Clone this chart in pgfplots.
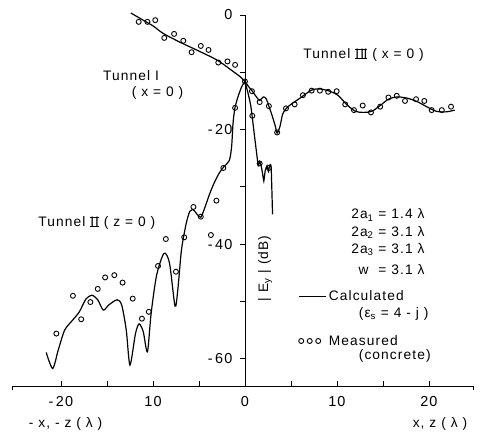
\documentclass[border=0pt]{standalone}
\usepackage{pgfplots}
\pgfplotsset{compat=1.18}
\usepackage{fontspec}
\setmainfont{Liberation Sans}[LetterSpace=8]
\newcommand\RN[1]{\setbox0\hbox{#1}\leavevmode\rlap{\rule[-0.02em]{\wd0}{0.07em}}\rlap{\rule[\dimexpr\ht0-0.05em\relax]{\wd0}{0.07em}}\box0\relax}
\pgfplotsset{
  calcleg/.style={legend image code/.code={\draw[##1] (0bp,0bp) -- (27bp,0bp);}},
  measleg/.style={legend image code/.code={\draw[##1] plot coordinates {(2.5bp,0bp) (11bp,0bp) (19.5bp,0bp)};}},
}
\begin{document}
\begin{tikzpicture}[font=\fontsize{13.8}{15}\selectfont]
\begin{axis}[
  scale only axis, width=461.8bp, height=371.3bp,
  xmin=-25.3, xmax=24.9, ymin=-64.8, ymax=0,
  axis x line=bottom, axis y line=center,
  axis line style={-, line width=0.8bp},
  xtick={-20,-15,...,20},
  xticklabels={-\,20,,10,,0,,10,,20},
  ytick={-60,-50,...,0},
  yticklabels={-\,60,,-\,40,,-\,20,,0},
  xtick align=inside, ytick align=outside,
  major tick length=5bp,
  tick style={line width=0.8bp, black},
  extra x ticks={-25.25,24.85}, extra x tick labels={,},
  extra x tick style={xtick align=outside, major tick length=4bp},
  xticklabel style={font=\fontsize{14.5}{16}\selectfont, yshift=-7bp},
  yticklabel style={font=\fontsize{14.5}{16}\selectfont, xshift=-4bp},
  clip=false,
  legend style={at={(axis cs:5.76,-48.1)}, anchor=north west, draw=none, fill=none,
    inner sep=0pt, row sep=33bp, font=\fontsize{13.8}{15}\selectfont,
    nodes={inner xsep=2.5bp, inner ysep=0bp}},
  legend cell align=left,
]
% Tunnel I calculated
\addplot[black, line width=1.2bp, smooth, tension=0.5, calcleg]
  coordinates {(-12.4,0.35) (-11.5,-0.5) (-10.0,-1.9) (-8.9,-3.2) (-7.0,-4.8) (-5.0,-6.3) (-3.0,-7.9) (-1.5,-9.6) (-0.5,-10.8) (0,-11.6)};
\addlegendentry{Calculated}
% Tunnel II calculated
\addplot[black, line width=1.2bp, smooth, tension=0.45, forget plot]
  coordinates {(-21.6,-58.9) (-20.9,-61.7) (-20.3,-58.5) (-19.6,-55.0) (-18.7,-53.2) (-18.0,-51.8) (-17.3,-49.6) (-16.65,-48.9) (-16.0,-49.7) (-15.4,-51.5) (-14.8,-50.6) (-13.9,-49.7) (-13.4,-50.6) (-12.9,-55.0) (-12.5,-61.1) (-11.9,-55.6) (-11.5,-53.9) (-11.05,-55.3) (-10.6,-58.8) (-10.2,-52.1) (-9.6,-45.4) (-8.8,-41.6) (-8.2,-43.3) (-7.6,-50.8) (-7.3,-48.0) (-6.9,-41.0) (-6.4,-36.5) (-6.0,-34.3) (-5.6,-34.0) (-5.2,-34.8) (-4.8,-35.3) (-4.4,-33.8) (-3.9,-31.5) (-3.4,-29.5) (-2.8,-27.6) (-2.3,-26.5) (-1.7,-25.4) (-1.45,-23.0) (-1.3,-19.0) (-1.1,-16.3) (-0.76,-14.3) (-0.35,-12.5) (0,-11.6)};
% Tunnel III calculated
\addplot[black, line width=1.2bp, smooth, tension=0.5, forget plot]
  coordinates {(0,-11.6) (0.4,-12.5) (0.8,-13.3) (1.3,-14.4) (1.6,-14.9) (2.0,-14.3) (2.3,-14.6) (2.6,-15.9) (3.0,-17.8) (3.3,-19.4) (3.5,-20.6) (3.8,-19.5) (4.1,-17.3) (4.5,-16.3) (5.0,-15.6) (6.0,-14.5) (7.25,-13.1) (8.15,-12.9) (9.2,-13.3) (10.1,-14.0) (11.05,-15.6) (12.0,-16.8) (12.9,-17.0) (13.8,-16.8) (14.7,-15.8) (15.6,-14.7) (16.5,-14.3) (17.6,-14.5) (18.7,-15.1) (19.75,-16.0) (20.8,-16.8) (21.9,-16.9) (22.8,-16.6)};
% steep branch calculated
\addplot[black, line width=1.2bp, smooth, tension=0.3, forget plot]
  coordinates {(0,-11.6) (0.33,-13.6) (0.65,-16.0) (1.0,-20.6) (1.3,-24.5) (1.45,-26.3) (1.6,-25.6) (1.75,-26.2) (1.9,-27.5) (2.05,-29.0) (2.2,-27.2) (2.4,-26.3) (2.55,-27.3) (2.7,-26.2) (2.85,-26.6) (3.0,-34.8)};
% measured
\addplot[black, only marks, mark=o, mark size=2.5bp, mark options={line width=0.9bp}, measleg]
  coordinates {(-11.55,-1.2) (-10.6,-1.2) (-9.75,-0.9) (-8.77,-4.0) (-7.7,-3.3) (-6.7,-4.5) (-5.8,-6.5) (-4.8,-5.4) (-3.96,-6.1) (-2.9,-8.3) (-1.9,-8.1) (-1.07,-8.7) (0,-11.6)};
\addlegendentry{Measured}
\addplot[black, only marks, mark=o, mark size=2.5bp, mark options={line width=0.9bp}, forget plot]
  coordinates {(-20.5,-55.6) (-18.7,-49.0) (-17.8,-53.1) (-16.8,-50.1) (-16.0,-47.8) (-15.2,-45.8) (-14.2,-45.4) (-13.3,-46.7) (-12.2,-49.5) (-11.2,-53.0) (-10.45,-51.8) (-9.45,-43.8) (-8.6,-39.1) (-7.5,-44.8) (-6.6,-38.8) (-5.6,-33.5) (-4.8,-35.2) (-3.7,-38.4) (-3.1,-32.4) (-2.35,-26.7) (-1.07,-16.2)};
\addplot[black, only marks, mark=o, mark size=2.5bp, mark options={line width=0.9bp}, forget plot]
  coordinates {(0.76,-13.3) (1.6,-15.2) (2.6,-15.9) (3.5,-20.5) (4.46,-16.3) (5.4,-15.6) (6.3,-14.0) (7.25,-13.2) (8.15,-13.2) (9.05,-13.4) (9.97,-13.3) (10.9,-15.6) (11.85,-16.6) (12.8,-15.8) (13.7,-17.0) (14.7,-16.0) (15.6,-14.4) (16.5,-14.1) (17.4,-15.0) (18.6,-14.7) (19.5,-15.0) (20.3,-16.6) (21.4,-16.6) (22.4,-16.0)};
\addplot[black, only marks, mark=o, mark size=2.5bp, mark options={line width=0.9bp}, forget plot]
  coordinates {(0.8,-17.6) (1.6,-25.9) (2.6,-26.7)};
% texts
\node[anchor=west] at (axis cs:-15.8,-10.5) {Tunnel I};
\node at (axis cs:-9.5,-13.6) {( x = 0 )};
\node at (axis cs:12.9,-7.0) {Tunnel \RN{II\kern-0.5ptI} ( x = 0 )};
\node at (axis cs:-16.1,-36.3) {Tunnel \RN{II} ( z = 0 )};
\node[anchor=east] at (axis cs:19.9,-34.9) {2a\textsubscript{1} = 1.4 λ};
\node[anchor=east] at (axis cs:19.9,-37.9) {2a\textsubscript{2} = 3.1 λ};
\node[anchor=east] at (axis cs:19.9,-41.0) {2a\textsubscript{3} = 3.1 λ};
\node[anchor=east] at (axis cs:19.9,-44.5) {w \ = 3.1 λ};
\node[anchor=west] at (axis cs:12.0,-52.2) {(ε\textsubscript{s} = 4 - j )};
\node[anchor=west] at (axis cs:12.0,-59.5) {(concrete)};
\node[rotate=90] at (axis cs:2.2,-44.2) {| E\textsubscript{y} | (dB)};
\node at (axis cs:-19.5,-71.4) {- x, - z ( λ )};
\node at (axis cs:21.2,-71.4) {x, z ( λ )};
\end{axis}
\pgfresetboundingbox
\path[use as bounding box] ([xshift=-12.2bp,yshift=-47.7bp]current axis.south west) rectangle ([xshift=10bp,yshift=15bp]current axis.north east);
\end{tikzpicture}
\end{document}
